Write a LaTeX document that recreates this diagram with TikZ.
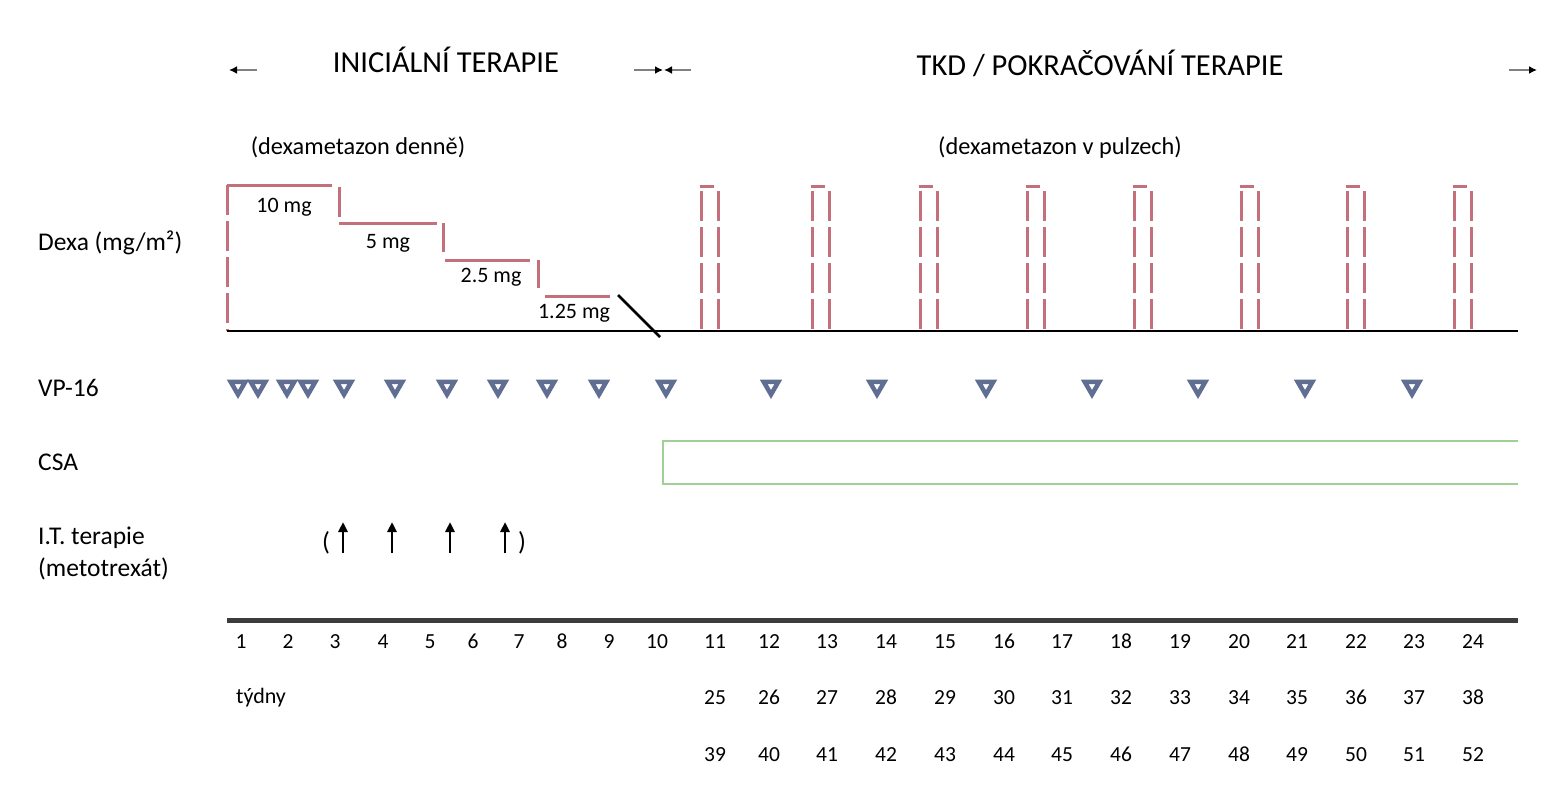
\documentclass[tikz,border=0pt]{standalone}
\usepackage{fontspec}
\setmainfont{Carlito}
\usetikzlibrary{arrows.meta,shapes.geometric}
\definecolor{dexacol}{RGB}{196,112,124}
\definecolor{vpcol}{RGB}{96,110,145}
\definecolor{csacol}{RGB}{160,208,150}
\definecolor{axiscol}{RGB}{60,60,60}
\begin{document}
\begin{tikzpicture}[x=1pt,y=-1pt]
\tikzset{
  lab/.style={font=\fontsize{25.5}{30}\selectfont, anchor=base west, inner sep=0},
  ttl/.style={font=\fontsize{30.5}{35}\selectfont, anchor=base, inner sep=0},
  sub/.style={font=\fontsize{24.3}{28}\selectfont, anchor=base, inner sep=0},
  dose/.style={font=\fontsize{22}{26}\selectfont, anchor=base, inner sep=0},
  num/.style={font=\fontsize{21.5}{25}\selectfont, anchor=base, inner sep=0},
  paren/.style={font=\fontsize{26}{30}\selectfont, inner sep=0},
  dexa/.style={draw=dexacol, line width=3pt},
  pulseleg/.style={dexa, dash pattern=on 30pt off 6pt},
  vp/.style={regular polygon, regular polygon sides=3, shape border rotate=180,
    draw=vpcol, line width=4.5pt, fill=white, minimum size=17pt, inner sep=0},
  csa/.style={draw=csacol, line width=2.5pt},
  itarrow/.style={-{Triangle[length=10pt,width=9pt]}, line width=2.8pt},
  phase/.style={-{Latex[length=8pt,width=8pt,color=black]}, draw=gray, line width=1.8pt},
  baseline/.style={draw=black, line width=2.5pt},
  axisline/.style={draw=axiscol, line width=5pt}
}
\useasboundingbox (0,0) rectangle (1555,800);

% phase headers
\node[ttl] (t1) at (446,73) {INICIÁLNÍ TERAPIE};
\node[ttl] (t2) at (1100,75) {TKD / POKRAČOVÁNÍ TERAPIE};
\coordinate (a1s) at (257,70); \coordinate (a1e) at (229,70);
\coordinate (a2s) at (634,70); \coordinate (a2e) at (663,70);
\coordinate (a3s) at (691,70); \coordinate (a3e) at (664,70);
\coordinate (a4s) at (1509,70); \coordinate (a4e) at (1537,70);
\draw[phase] (a1s) -- (a1e);
\draw[phase] (a2s) -- (a2e);
\draw[phase] (a3s) -- (a3e);
\draw[phase] (a4s) -- (a4e);

\node[sub] (s1) at (358,154) {(dexametazon denně)};
\node[sub] (s2) at (1060,154) {(dexametazon v pulzech)};

% row labels
\node[lab] (ldexa) at (38,250) {Dexa (mg/m²)};
\node[lab] (lvp) at (38,396) {VP-16};
\node[lab] (lcsa) at (38,470) {CSA};
\node[lab] (lit1) at (38,544) {I.T. terapie};
\node[lab] (lit2) at (38,576) {(metotrexát)};

% dexa steps
\coordinate (b0) at (227,331); \coordinate (b1) at (1518,331);
\draw[pulseleg] (227,185) -- (227,331);
\draw[dexa] (227,185) -- (332,185);
\draw[dexa] (339,187) -- (339,217);
\draw[dexa] (339,223) -- (437,223);
\draw[dexa] (443,223) -- (443,252);
\draw[dexa] (445,260) -- (530,260);
\draw[dexa] (538,260) -- (538,288);
\draw[dexa] (545,296) -- (610,296);
\coordinate (d0) at (618,295); \coordinate (d1) at (660,337);
\draw[baseline] (d0) -- (d1);
\draw[baseline] (b0) -- (b1);
\node[dose] (m1) at (284,212) {10 mg};
\node[dose] (m2) at (388,248) {5 mg};
\node[dose] (m3) at (491,282) {2.5 mg};
\node[dose] (m4) at (574,318) {1.25 mg};

% pulses
\foreach \x [count=\i] in {710,821,929,1036,1143,1250,1356,1463}{
  \coordinate (p\i) at (\x,331);
  \draw[pulseleg] ([xshift=-9pt,yshift=140pt]p\i) -- ([xshift=-9pt]p\i);
  \draw[pulseleg] ([xshift=8pt,yshift=140pt]p\i) -- ([xshift=8pt]p\i);
  \draw[dexa] ([xshift=-10.5pt,yshift=145pt]p\i) -- ([xshift=4pt,yshift=145pt]p\i);
}

% VP-16
\foreach \x [count=\i] in {238,258,287,308,344,395,447,498,547,599,666,771,877,986,1092,1198,1305,1412}{
  \node[vp] (v\i) at (\x,386) {};
}

% CSA
\coordinate (c1) at (1518,441); \coordinate (c2) at (663,441);
\coordinate (c3) at (663,484); \coordinate (c4) at (1518,484);
\draw[csa] (c1) -- (c2) -- (c3) -- (c4);

% IT arrows
\foreach \x [count=\i] in {343,392,450,505}{
  \coordinate (ia\i) at (\x,553); \coordinate (ib\i) at (\x,522);
  \draw[itarrow] (ia\i) -- (ib\i);
}
\node[paren] (par1) at (326,543) {(};
\node[paren] (par2) at (522,543) {)};

% time axis
\coordinate (x0) at (227,620); \coordinate (x1) at (1518,620);
\draw[axisline] (x0) -- (x1);
\foreach \x [count=\i] in {241,288,335,383,430,473,519,562,609,657}{
  \node[num] (n\i) at (\x,648) {\i};
}
\foreach \x [count=\i from 11] in {715,769,827,886,945,1004,1062,1121,1180,1239,1297,1356,1414,1473}{
  \pgfmathtruncatemacro{\j}{\i+14}
  \pgfmathtruncatemacro{\k}{\i+28}
  \node[num] (n\i) at (\x,648) {\i};
  \node[num] (n\j) at (\x,704) {\j};
  \node[num] (n\k) at (\x,761) {\k};
}
\node[font=\fontsize{22}{26}\selectfont, anchor=base west, inner sep=0] (weeks) at (236,703) {týdny};
\end{tikzpicture}
\end{document}
